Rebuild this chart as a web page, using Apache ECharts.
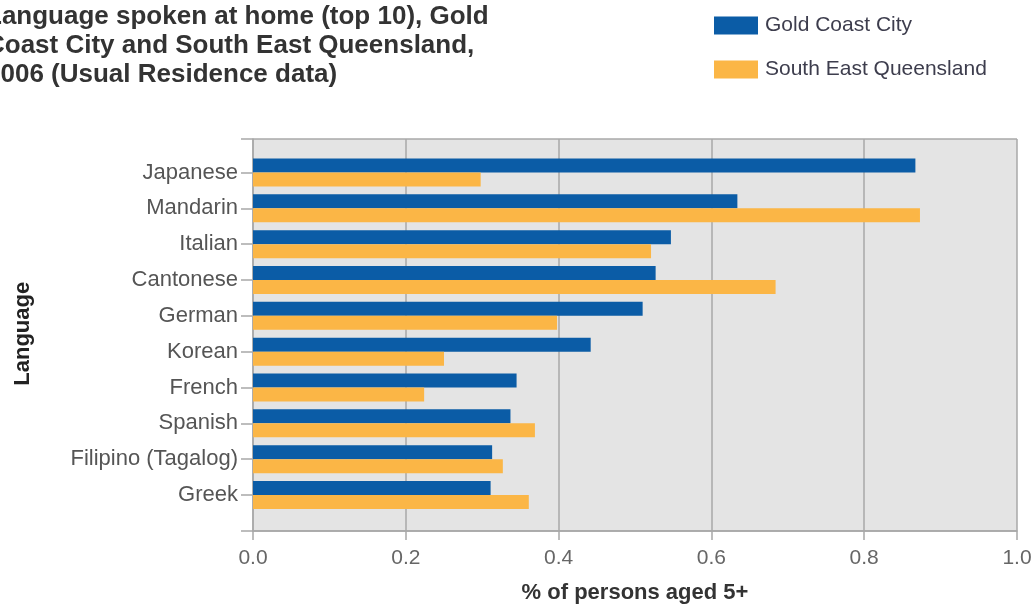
<!DOCTYPE html>
<html>
<head>
<meta charset="utf-8">
<script src="https://cdn.jsdelivr.net/npm/echarts@6/dist/echarts.min.js"></script>
<style>
html,body{margin:0;padding:0;background:#fff;}
#chart{width:1035px;height:606px;}
</style>
</head>
<body>
<div id="chart"></div>
<script>
const titleText = "Language spoken at home (top 10), Gold\nCoast City and South East Queensland,\n2006 (Usual Residence data)";
const categories = ["Japanese","Mandarin","Italian","Cantonese","German","Korean","French","Spanish","Filipino (Tagalog)","Greek"];
const seriesNames = ["Gold Coast City","South East Queensland"];
const goldCoast = [0.867,0.634,0.547,0.527,0.510,0.442,0.345,0.337,0.313,0.311];
const seq = [0.298,0.873,0.521,0.684,0.398,0.250,0.224,0.369,0.327,0.361];
const xTicks = [0,0.2,0.4,0.6,0.8,1.0];
const xName = "% of persons aged 5+";
const yName = "Language";

const font = "Arial, 'Liberation Sans', sans-serif";
const gridColor = "#a8a8a8";
const chart = echarts.init(document.getElementById('chart'));
chart.setOption({
  animation:false,
  textStyle:{fontFamily:font},
  title:{
    text:titleText, left:-19, top:-3,
    textStyle:{fontFamily:font, fontSize:26, fontWeight:'bold', color:'#333', lineHeight:29}
  },
  legend:{
    orient:'vertical', left:709, top:10, itemWidth:44, itemHeight:18, itemGap:23,
    icon:'rect',
    data:seriesNames,
    textStyle:{fontFamily:font, fontSize:21, color:'#3d3d4d', padding:[0,0,0,2]}
  },
  grid:[
    {left:253, right:18, top:139, bottom:75, show:true, backgroundColor:'#e4e4e4', borderWidth:0,
     containLabel:false, outerBoundsMode:'none'},
    {left:253, right:18, top:154.6, bottom:93.1, containLabel:false, outerBoundsMode:'none'}
  ],
  xAxis:[
    {gridIndex:0, type:'value', min:xTicks[0], max:xTicks[xTicks.length-1], interval:0.2,
     name:xName, nameLocation:'middle', nameGap:51,
     nameTextStyle:{fontFamily:font, fontSize:22, fontWeight:'bold', color:'#333'},
     axisLine:{show:true, lineStyle:{color:gridColor, width:1.5}},
     axisTick:{show:true, length:9, lineStyle:{color:gridColor, width:1.5}},
     axisLabel:{fontSize:21, color:'#666', margin:17, formatter:v=>v.toFixed(1)},
     splitLine:{show:true, lineStyle:{color:gridColor, width:1.5}}},
    {gridIndex:1, type:'value', min:0, max:1, show:false}
  ],
  yAxis:[
    {gridIndex:0, type:'value', min:0, max:1, interval:1,
     axisLine:{show:true, lineStyle:{color:gridColor, width:1.5}},
     axisTick:{show:true, length:12, lineStyle:{color:gridColor, width:1.5}},
     axisLabel:{show:false},
     splitLine:{show:true, lineStyle:{color:gridColor, width:1.5}}},
    {gridIndex:1, type:'category', inverse:true, data:categories,
     name:yName, nameLocation:'middle', nameRotate:90, nameGap:219,
     nameTextStyle:{fontFamily:font, fontSize:22, fontWeight:'bold', color:'#222'},
     axisLine:{show:false},
     axisTick:{show:true, alignWithLabel:true, length:12, lineStyle:{color:gridColor, width:1.5}},
     axisLabel:{fontSize:22, color:'#555', margin:15},
     splitLine:{show:false}}
  ],
  series:[
    {name:seriesNames[0], type:'bar', xAxisIndex:1, yAxisIndex:1, data:goldCoast,
     barWidth:14, barGap:'0%', itemStyle:{color:'#0b5ca6'}},
    {name:seriesNames[1], type:'bar', xAxisIndex:1, yAxisIndex:1, data:seq,
     barWidth:14, barGap:'0%', itemStyle:{color:'#fbb646'}}
  ]
});
</script>
</body>
</html>
